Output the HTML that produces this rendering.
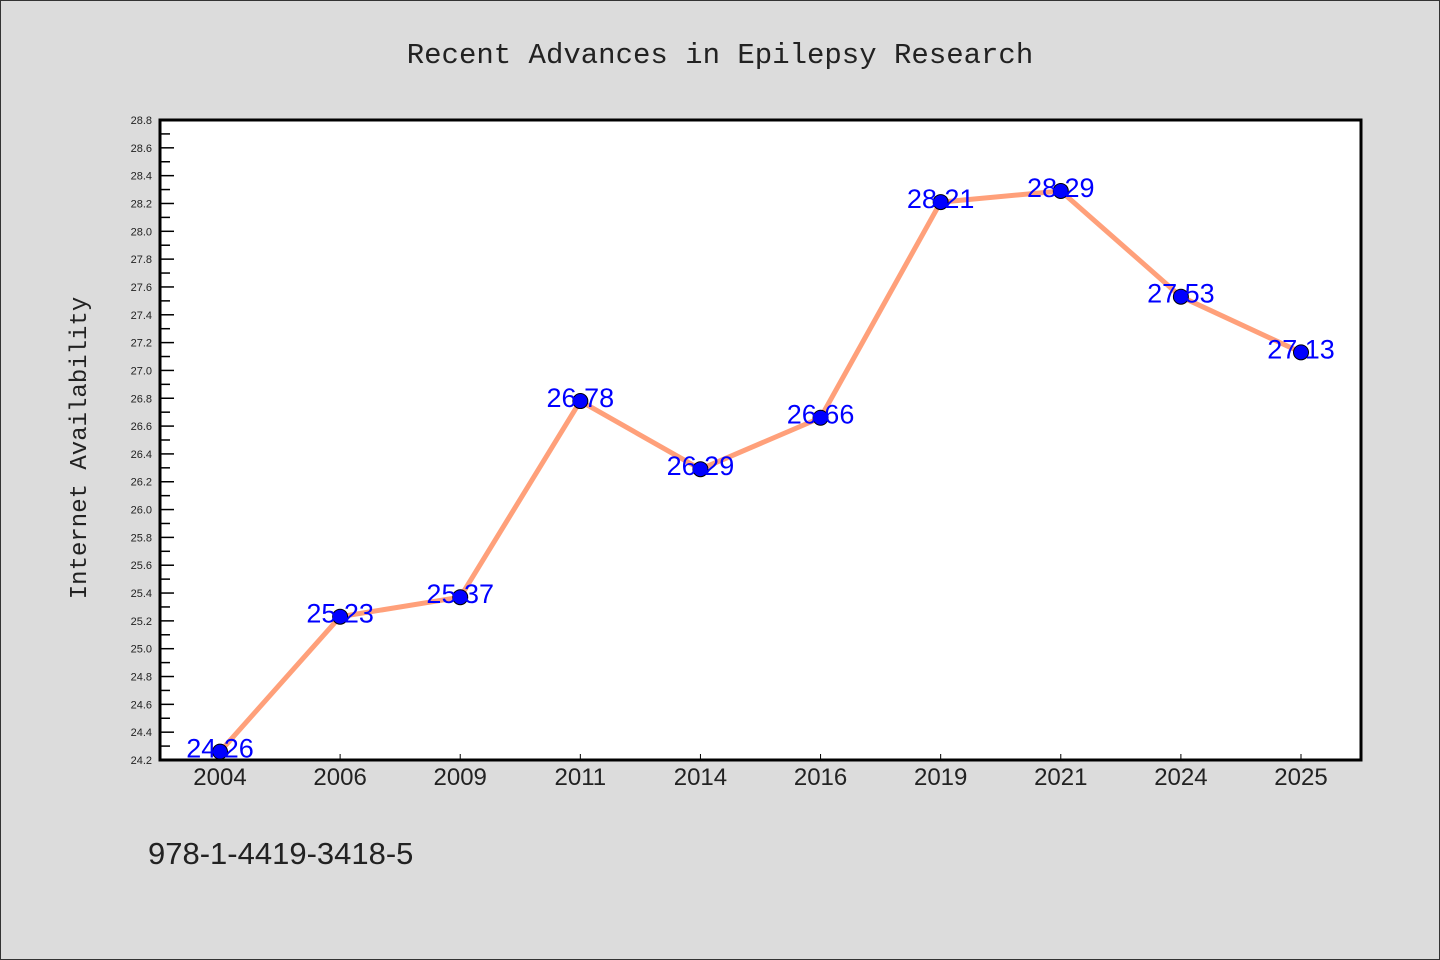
<!DOCTYPE html>
<html><head><meta charset="utf-8"><style>
html,body{margin:0;padding:0;background:#dcdcdc;}
svg{display:block;font-family:"Liberation Sans","Noto Sans CJK SC",sans-serif;}
</style></head><body>
<svg id="chart" width="1440" height="960">
<rect x="0.5" y="0.5" width="1439" height="959" fill="#dcdcdc" stroke="#333" stroke-width="1"/>
<text x="720" y="63" text-anchor="middle" font-size="29" fill="#222" font-family="Liberation Mono, monospace">Recent Advances in Epilepsy Research</text>
<rect x="160" y="120" width="1201" height="640" fill="#fff"/>
<g id="yticks"></g><g id="xticks"></g>
<polyline id="line" fill="none" stroke="#ffa07a" stroke-width="5" stroke-linejoin="round"/>
<g id="points"></g><g id="labels"></g>
<rect x="160" y="120" width="1201" height="640" fill="none" stroke="#000" stroke-width="3"/>
<text transform="translate(86,448) rotate(-90)" text-anchor="middle" font-size="24" fill="#222" font-family="Liberation Mono, monospace">Internet Availability</text>
<text x="148" y="864" font-size="31" fill="#222">978-1-4419-3418-5</text>
</svg>
<script>
const categories=["2004","2006","2009","2011","2014","2016","2019","2021","2024","2025"];
const values=[24.26,25.23,25.37,26.78,26.29,26.66,28.21,28.29,27.53,27.13];
const yMin=24.2,yMax=28.8;
const NS="http://www.w3.org/2000/svg";
const L=160,R=1361,T=120,B=760;
function xs(i){return 220+i*(R-L-120)/(categories.length-1);}
function ys(v){return B-(v-yMin)/(yMax-yMin)*(B-T);}
function mk(tag,attrs,parent){const e=document.createElementNS(NS,tag);for(const k in attrs)e.setAttribute(k,attrs[k]);parent.appendChild(e);return e;}
const yt=document.getElementById('yticks');
for(let k=0;k<=46;k++){
  const v=yMin+k*0.1;const y=ys(v);const major=k%2===0;
  const t=mk('line',{x1:L,x2:L+(major?14:10),y1:y,y2:y,stroke:'#000','stroke-width':1.5},yt);
  
  
  if(major){const tx=mk('text',{x:152,y:y+4,'text-anchor':'end','font-size':11,fill:'#222'},yt);tx.textContent=v.toFixed(1);
  
  }
}
const xt=document.getElementById('xticks');
categories.forEach((c,i)=>{
  const x=xs(i);
  const t=mk('line',{x1:x,x2:x,y1:B,y2:B-6,stroke:'#000','stroke-width':1},xt);
  
  
  const tx=mk('text',{x:x,y:785,'text-anchor':'middle','font-size':24,fill:'#222'},xt);tx.textContent=c;
  
  
});
document.getElementById('line').setAttribute('points',values.map((v,i)=>xs(i)+','+ys(v)).join(' '));
const pg=document.getElementById('points'),lg=document.getElementById('labels');
values.forEach((v,i)=>{
  const c=mk('circle',{cx:xs(i),cy:ys(v),r:7.5,fill:'#0000ff',stroke:'#000','stroke-width':1},pg);
  
  
  const t=mk('text',{x:xs(i),y:ys(v)+6,'text-anchor':'middle','font-size':27,fill:'#0000ff'},lg);t.textContent=v.toFixed(2);
  
  
});
</script>
</body></html>
